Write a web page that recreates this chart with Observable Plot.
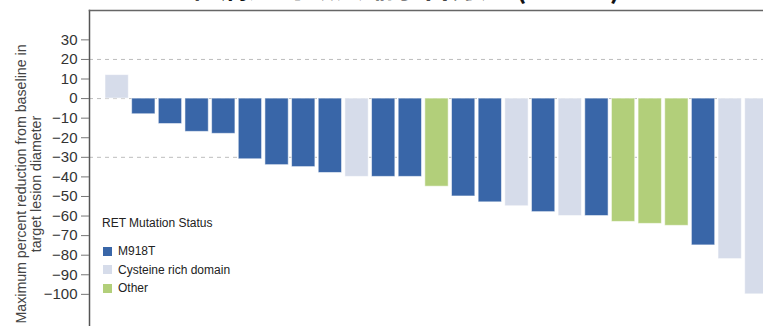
<!DOCTYPE html>
<html>
<head>
<meta charset="utf-8">
<script src="https://cdn.jsdelivr.net/npm/d3@7"></script>
<script src="https://cdn.jsdelivr.net/npm/@observablehq/plot@0.6"></script>
<style>
  html, body { margin: 0; padding: 0; overflow: hidden; background: #fff; }
  #wrap { position: relative; width: 763px; height: 326px; overflow: hidden; }
  #title { position: absolute; z-index: 2; left: 190px; top: -29px; font: bold 29px "Noto Sans CJK SC", sans-serif;
           line-height: 29px; white-space: nowrap; color: #111; }
  #chart { position: absolute; left: 0; top: 0; width: 790px; }
  #chart svg { max-width: none; }
  #legend { position: absolute; z-index: 2; left: 102px; top: 215px; font: 12px "Liberation Sans", Arial, sans-serif; color: #222; }
  #legend .ttl { height: 16px; line-height: 16px; margin-bottom: 11px; }
  #legend .item { display: flex; align-items: center; height: 18.5px; }
  #legend .sw { width: 9px; height: 9px; margin-left: 1px; margin-right: 6px; }
</style>
</head>
<body>
<div id="wrap">
  <div id="title"></div>
  <div id="chart"></div>
  <div id="legend"></div>
</div>
<script>
// Best percent change in target lesion diameter, one bar per patient, sorted
const titleText = "靶病灶的最大缩小百分比 (n = 25)";
const reduction = [12, -8, -13, -17, -18, -31, -34, -35, -38, -40, -40, -40, -45,
                   -50, -53, -55, -58, -60, -60, -63, -64, -65, -75, -82, -100];
const mutation = [
  "Cysteine rich domain", "M918T", "M918T", "M918T", "M918T", "M918T", "M918T", "M918T", "M918T",
  "Cysteine rich domain", "M918T", "M918T", "Other", "M918T", "M918T", "Cysteine rich domain",
  "M918T", "Cysteine rich domain", "M918T", "Other", "Other", "Other", "M918T",
  "Cysteine rich domain", "Cysteine rich domain"
];
const statuses = ["M918T", "Cysteine rich domain", "Other"];
const statusColors = ["#3966a8", "#d6dcea", "#b2cf7a"];
const legendTitle = "RET Mutation Status";
const refLines = [20, 0, -30];
const yTicks = [30, 20, 10, 0, -10, -20, -30, -40, -50, -60, -70, -80, -90, -100];
const yLabel = "Maximum percent reduction from baseline in\ntarget lesion diameter";

const rows = reduction.map((v, i) => ({id: `P${i + 1}`, value: v, status: mutation[i]}));

document.getElementById("title").textContent = titleText;

const chart = Plot.plot({
  width: 790,
  height: 345,
  marginLeft: 89,
  marginRight: 6,
  marginTop: 10,
  marginBottom: 12,
  style: {fontFamily: "'Liberation Sans', Arial, sans-serif", maxWidth: "none"},
  x: {type: "band", domain: rows.map(d => d.id), paddingInner: 0.125, paddingOuter: 0.6, round: false, axis: null},
  y: {domain: [-120, 45], axis: null},
  color: {domain: statuses, range: statusColors},
  marks: [
    Plot.ruleY(refLines, {stroke: "#bdbdbd", strokeWidth: 1, strokeDasharray: "4,4"}),
    Plot.barY(rows, {x: "id", y: "value", fill: "status", stroke: "#fff", strokeOpacity: 0.55, strokeWidth: 1}),
    Plot.frame({anchor: "left", stroke: "#555", strokeWidth: 1.5}),
    Plot.frame({anchor: "top", stroke: "#666", strokeWidth: 1.5}),
    Plot.axisY(yTicks, {tickSize: 8, tickPadding: 4, fontSize: 15, stroke: "#777", fill: "#333", label: null}),
    Plot.text([yLabel], {frameAnchor: "left", rotate: -90, dx: -61, dy: 12, fontSize: 14.2,
                         fill: "#444", lineHeight: 1.06, textAnchor: "middle"})
  ]
});
document.getElementById("chart").appendChild(chart);

// Legend drawn inside the plot area
const legend = document.getElementById("legend");
const t = document.createElement("div");
t.className = "ttl";
t.textContent = legendTitle;
legend.appendChild(t);
statuses.forEach((s, i) => {
  const item = document.createElement("div");
  item.className = "item";
  const sw = document.createElement("span");
  sw.className = "sw";
  sw.style.background = statusColors[i];
  const lab = document.createElement("span");
  lab.textContent = s;
  item.appendChild(sw);
  item.appendChild(lab);
  legend.appendChild(item);
});
</script>
</body>
</html>
